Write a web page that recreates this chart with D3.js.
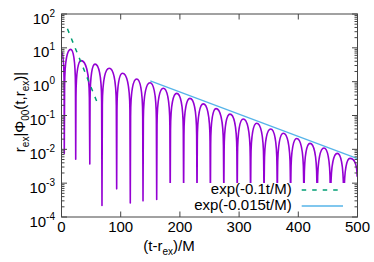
<!DOCTYPE html>
<html><head><meta charset="utf-8">
<script src="https://cdn.jsdelivr.net/npm/d3@7"></script>
<style>body{margin:0;background:#fff} svg{display:block} text{font-family:"Liberation Sans",Arial,sans-serif;fill:#000}</style>
</head><body><svg id="c" width="374" height="262"></svg>
<script>
// ---- data ----
const xTicks = [0, 100, 200, 300, 400, 500];
const yExps = [-4, -3, -2, -1, 0, 1, 2];
const startPoint = {t: 0, v: 7.7};
const dipT = [4.7, 24.0, 47.8, 68.4, 93.2, 116.2, 137.7, 160.8, 183.6, 206.3, 228.9, 251.5, 274.2, 296.8, 319.4, 342.1, 364.5, 387.0, 409.5, 431.9, 454.4, 476.9];
const dipV = [7.6e-3, 5.1e-3, 3.7e-3, 2.2e-4, 6.8e-4, 2.6e-4, 3.0e-4, 3.3e-4, 4e-4, 4e-4, 4e-4, 4e-4, 4e-4, 4e-4, 4e-4, 4e-4, 4e-4, 4e-4, 4e-4, 4e-4, 4e-4, 4e-4];
const peakT = [15.5, 33, 56.6, 80.7, 103, 127, 149.5, 172, 194.6, 217, 239.5, 261, 284.6, 307, 329.7, 353.4, 374.7, 397.3, 419.8, 443.4, 465.9, 487.3];
const peakV = [9.0, 4.2, 3.3, 2.5, 1.77, 1.2, 0.93, 0.64, 0.45, 0.32, 0.22, 0.16, 0.11, 0.079, 0.059, 0.040, 0.030, 0.021, 0.015, 0.011, 0.0076, 0.0054];
const endPoint = {t: 500, v: 1.6e-3};
const fastFitT = [10, 60];
const fastFitV = [36.8, 0.25];
const slowFitT = [150, 500];
const slowFitV = [1.05, 0.0053];
const legendLabels = ["exp(-0.1t/M)", "exp(-0.015t/M)"];
const colors = {signal: "#9400D3", fast: "#009E73", slow: "#56B4E9"};

// ---- layout ----
const L = 61.5, R = 357.5, T = 14, B = 217;
const svg = d3.select("#c");
const x = d3.scaleLinear().domain([0, 500]).range([L, R]);
const y = d3.scaleLog().domain([1e-4, 1e2]).range([B, T]);

svg.append("defs").append("clipPath").attr("id", "clip")
  .append("rect").attr("x", L).attr("y", T).attr("width", R - L).attr("height", B - T);

// ---- signal curve: alternating peaks and dips ----
const nodes = [{t: startPoint.t, v: startPoint.v, k: "p"}];
dipT.forEach((t, i) => {
  nodes.push({t, v: dipV[i], k: "d"});
  nodes.push({t: peakT[i], v: peakV[i], k: "p"});
});
nodes.push({t: endPoint.t, v: endPoint.v, k: "d"});

const p = d3.path();
const px = n => ({x: x(n.t), y: y(n.v)});
const first = px(nodes[0]);
p.moveTo(first.x, first.y);
for (let i = 0; i < nodes.length - 1; i++) {
  const a = nodes[i], b = nodes[i + 1];
  const P = px(a.k === "p" ? a : b), D = px(a.k === "p" ? b : a);
  const h = Math.min(D.y - P.y, 37);
  const at = f => D.x + (P.x - D.x) * f;
  if (a.k === "d") {
    p.lineTo(at(0.05), P.y + h);
    p.bezierCurveTo(at(0.08), P.y + h * 8 / 37, at(0.55), P.y, P.x, P.y);
  } else {
    p.bezierCurveTo(at(0.55), P.y, at(0.08), P.y + h * 8 / 37, at(0.05), P.y + h);
    p.lineTo(D.x, D.y);
  }
}
const g = svg.append("g").attr("clip-path", "url(#clip)");
g.append("path").attr("d", p.toString()).attr("fill", "none")
  .attr("stroke", colors.signal).attr("stroke-width", 1.6).attr("stroke-linejoin", "round");

const line = d3.line().x(d => x(d[0])).y(d => y(d[1]));
g.append("path").attr("d", line(fastFitT.map((t, i) => [t, fastFitV[i]])))
  .attr("fill", "none").attr("stroke", colors.fast).attr("stroke-width", 1.5).attr("stroke-dasharray", "4.5,6");
g.append("path").attr("d", line(slowFitT.map((t, i) => [t, slowFitV[i]])))
  .attr("fill", "none").attr("stroke", colors.slow).attr("stroke-width", 1.3);

// ---- legend (opaque) ----
const lg = svg.append("g");
lg.append("rect").attr("x", 163).attr("y", 183).attr("width", 190).attr("height", 32).attr("fill", "#fff");
const legendStyles = [{c: colors.fast, dash: "4.5,6"}, {c: colors.slow, dash: null}];
legendLabels.forEach((lab, i) => {
  const yy = 194 + i * 16;
  lg.append("text").attr("x", 291.7).attr("y", yy).attr("text-anchor", "end").attr("font-size", 15).text(lab);
  lg.append("line").attr("x1", 301.7).attr("x2", 343).attr("y1", yy - 4).attr("y2", yy - 4)
    .attr("stroke", legendStyles[i].c).attr("stroke-width", i ? 1.3 : 1.5)
    .attr("stroke-dasharray", legendStyles[i].dash);
});

// ---- axes ----
const ax = svg.append("g").attr("stroke", "#444").attr("stroke-width", 1);
xTicks.forEach(t => {
  ax.append("line").attr("x1", x(t)).attr("x2", x(t)).attr("y1", B).attr("y2", B - 5.5);
  ax.append("line").attr("x1", x(t)).attr("x2", x(t)).attr("y1", T).attr("y2", T + 5.5);
});
yExps.forEach(e => {
  const v = Math.pow(10, e);
  ax.append("line").attr("x1", L).attr("x2", L + 5.5).attr("y1", y(v)).attr("y2", y(v));
  ax.append("line").attr("x1", R).attr("x2", R - 5.5).attr("y1", y(v)).attr("y2", y(v));
  if (e < 2) for (let m = 2; m <= 9; m++) {
    const vm = m * v;
    ax.append("line").attr("x1", L).attr("x2", L + 3).attr("y1", y(vm)).attr("y2", y(vm));
    ax.append("line").attr("x1", R).attr("x2", R - 3).attr("y1", y(vm)).attr("y2", y(vm));
  }
});
ax.append("rect").attr("x", L).attr("y", T).attr("width", R - L).attr("height", B - T).attr("fill", "none");

xTicks.forEach(t => {
  svg.append("text").attr("x", x(t)).attr("y", 232).attr("text-anchor", "middle").attr("font-size", 15).text(t);
});
yExps.forEach(e => {
  const tx = svg.append("text").attr("x", 55).attr("y", y(Math.pow(10, e)) + 9.5).attr("text-anchor", "end").attr("font-size", 15);
  tx.append("tspan").text("10");
  tx.append("tspan").attr("font-size", 10).attr("dy", -7).text(e < 0 ? "-" + (-e) : e);
});

// titles
const xt = svg.append("text").attr("x", 169).attr("y", 251).attr("text-anchor", "middle").attr("font-size", 15);
xt.append("tspan").text("(t-r");
xt.append("tspan").attr("font-size", 10).attr("dy", 4).text("ex");
xt.append("tspan").attr("dy", -4).text(")/M");

const yt = svg.append("text").attr("transform", "translate(25,112) rotate(-90)").attr("text-anchor", "middle").attr("font-size", 15);
yt.append("tspan").text("r");
yt.append("tspan").attr("font-size", 10).attr("dy", 4).text("ex");
yt.append("tspan").attr("dy", -4).text("|Φ");
yt.append("tspan").attr("font-size", 10).attr("dy", 4).text("00");
yt.append("tspan").attr("dy", -4).text("(t,r");
yt.append("tspan").attr("font-size", 10).attr("dy", 4).text("ex");
yt.append("tspan").attr("dy", -4).text(")|");
</script>
</body></html>
